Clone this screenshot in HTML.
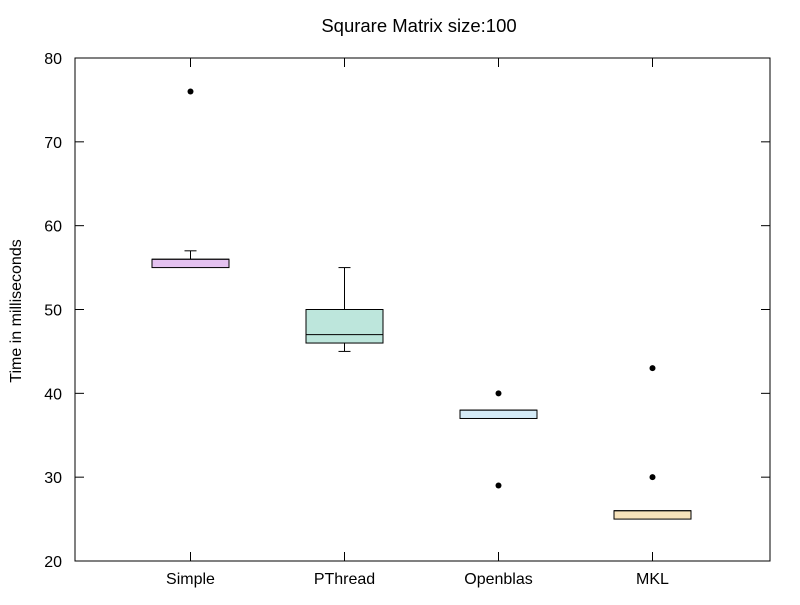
<!DOCTYPE html>
<html><head><meta charset="utf-8"><style>
body{margin:0;background:#fff;}
svg text{font-family:"Liberation Sans",sans-serif;font-size:16px;fill:#000;}
</style></head><body>
<svg id="chart" width="800" height="600" xmlns="http://www.w3.org/2000/svg">
<rect width="800" height="600" fill="#fff"/>
<text x="419" y="32" text-anchor="middle" style="font-size:18.5px">Squrare Matrix size:100</text>
<text transform="translate(21,311) rotate(-90)" text-anchor="middle">Time in milliseconds</text>
<g id="axes"></g>
<g id="marks"></g>
<rect x="75" y="58" width="695" height="503" fill="none" stroke="#000" stroke-width="1"/>
</svg>
<script>
const categories=["Simple","PThread","Openblas","MKL"];
const q1=[55,46,37,25];
const q3=[56,50,38,26];
const medians=[56,47,38,26];
const whiskerLow=[55,45,37,25];
const whiskerHigh=[57,55,38,26];
const outlierValues=[[76],[],[40,29],[43,30]];
const colors=["#e4c2f0","#bde6dc","#d5ebf7","#f7e3bb"];
const yTicks=[20,30,40,50,60,70,80];
const NS="http://www.w3.org/2000/svg";
const y=v=>561-(v-20)*(503/60);
const x=i=>190.5+i*154;
const halfW=38.5;
function mk(tag,attrs,parent){const e=document.createElementNS(NS,tag);for(const k in attrs)e.setAttribute(k,attrs[k]);parent.appendChild(e);return e;}
const axes=document.getElementById('axes'),marks=document.getElementById('marks');
yTicks.forEach(t=>{
 const l=mk('line',{x1:75,x2:84,y1:y(t),y2:y(t),stroke:'#000'},axes);
 
 
 const r=mk('line',{x1:761,x2:770,y1:y(t),y2:y(t),stroke:'#000'},axes);
 
 
 const tx=mk('text',{x:62,y:y(t)+6,'text-anchor':'end'},axes);tx.textContent=t;
 
 
});
categories.forEach((c,i)=>{
 const cx=x(i);
 const tk=mk('line',{x1:cx,x2:cx,y1:561,y2:552,stroke:'#000'},axes);
 
 
 const tt=mk('line',{x1:cx,x2:cx,y1:58,y2:67,stroke:'#000'},axes);
 
 
 const tx=mk('text',{x:cx,y:584,'text-anchor':'middle'},axes);tx.textContent=c;
 
 
 const g=mk('g',{},marks);
 
 
 if(whiskerHigh[i]>q3[i]){mk('line',{x1:cx,x2:cx,y1:y(q3[i]),y2:y(whiskerHigh[i]),stroke:'#000'},g);mk('line',{x1:cx-6,x2:cx+6,y1:y(whiskerHigh[i]),y2:y(whiskerHigh[i]),stroke:'#000'},g);}
 if(whiskerLow[i]<q1[i]){mk('line',{x1:cx,x2:cx,y1:y(q1[i]),y2:y(whiskerLow[i]),stroke:'#000'},g);mk('line',{x1:cx-6,x2:cx+6,y1:y(whiskerLow[i]),y2:y(whiskerLow[i]),stroke:'#000'},g);}
 mk('rect',{x:cx-halfW,y:y(q3[i]),width:2*halfW,height:y(q1[i])-y(q3[i]),fill:colors[i],stroke:'#000'},g);
 mk('line',{x1:cx-halfW,x2:cx+halfW,y1:y(medians[i]),y2:y(medians[i]),stroke:'#000'},g);
 outlierValues[i].forEach(v=>{
  const o=mk('circle',{cx:cx,cy:y(v),r:3,fill:'#000'},marks);
  
  
 });
});
</script>
</body></html>
